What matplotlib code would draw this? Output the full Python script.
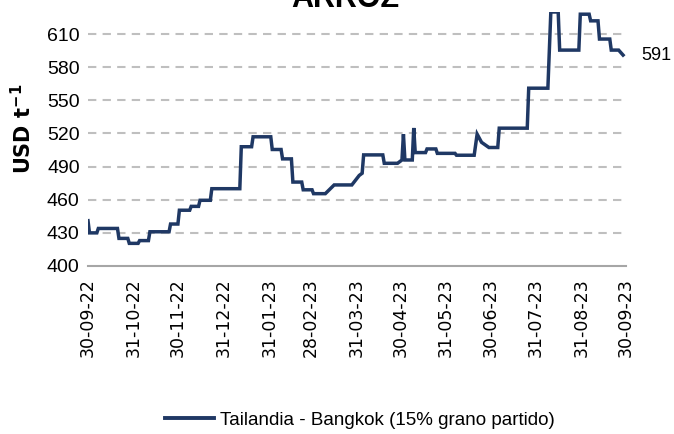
import matplotlib
matplotlib.use("Agg")
import matplotlib.pyplot as plt
import pandas as pd

dates = ["2022-09-30", "2022-10-01", "2022-10-06", "2022-10-07", "2022-10-20", "2022-10-21",
         "2022-10-27", "2022-10-28", "2022-11-03", "2022-11-04", "2022-11-10", "2022-11-11",
         "2022-11-24", "2022-11-25", "2022-11-30", "2022-12-01", "2022-12-08", "2022-12-09",
         "2022-12-14", "2022-12-15", "2022-12-22", "2022-12-23", "2023-01-11", "2023-01-12",
         "2023-01-19", "2023-01-20", "2023-02-01", "2023-02-02", "2023-02-08", "2023-02-09",
         "2023-02-15", "2023-02-16", "2023-02-22", "2023-02-23", "2023-03-01", "2023-03-02",
         "2023-03-10", "2023-03-16", "2023-03-28", "2023-04-02", "2023-04-04", "2023-04-05",
         "2023-04-18", "2023-04-19", "2023-04-28", "2023-04-29", "2023-05-01", "2023-05-02",
         "2023-05-03", "2023-05-08", "2023-05-09", "2023-05-10", "2023-05-17", "2023-05-18",
         "2023-05-24", "2023-05-25", "2023-06-06", "2023-06-07", "2023-06-19", "2023-06-21",
         "2023-06-24", "2023-06-29", "2023-07-05", "2023-07-06", "2023-07-25", "2023-07-26",
         "2023-08-08", "2023-08-10", "2023-08-15", "2023-08-16", "2023-08-29", "2023-08-30",
         "2023-09-05", "2023-09-06", "2023-09-11", "2023-09-12", "2023-09-19", "2023-09-20",
         "2023-09-25", "2023-09-28"]
values = [441, 430, 430, 434, 434, 425,
          425, 420.5, 420.5, 423, 423, 431,
          431, 438, 438, 450.5, 450.5, 454,
          454, 459.5, 459.5, 470, 470, 508,
          508, 517, 517, 505.5, 505.5, 497,
          497, 476, 476, 469, 469, 465.5,
          465.5, 473.4, 473.4, 482, 484, 500.6,
          500.6, 493, 493, 494, 496, 519.4,
          496, 496, 525, 502.7, 502.7, 506,
          506, 502, 502, 500.3, 500.3, 519.4,
          512, 507.3, 507.3, 524.8, 524.8, 561,
          561, 630, 630, 595.5, 595.5, 628,
          628, 622, 622, 605.5, 605.5, 595.5,
          595.5, 591]

tick_dates = ["2022-09-30", "2022-10-31", "2022-11-30", "2022-12-31", "2023-01-31",
              "2023-02-28", "2023-03-31", "2023-04-30", "2023-05-31", "2023-06-30",
              "2023-07-31", "2023-08-31", "2023-09-30"]
yticks = [400, 430, 460, 490, 520, 550, 580, 610]
series_name = "Tailandia - Bangkok (15% grano partido)"
last_label = "591"
title = "ARROZ"

x = pd.to_datetime(dates)
tx = pd.to_datetime(tick_dates)

narrow = ['Liberation Sans', 'DejaVu Sans']
navy = '#1F3864'

fig = plt.figure(figsize=(6.74, 4.34), dpi=100)
ax = fig.add_axes([88/674, 1-266/434, (626-88)/674, (266-12)/434])
ax.plot(x, values, color=navy, lw=2.5, solid_joinstyle='miter')

ax.set_xlim(tx[0], tx[-1])
ax.set_ylim(400, 630)
ax.set_yticks(yticks)
ax.set_yticklabels([str(v) for v in yticks], fontfamily=narrow, fontsize=14)
ax.set_xticks(tx)
ax.set_xticklabels([d.strftime('%d-%m-%y') for d in tx], rotation=90,
                   fontsize=12.5, fontfamily='DejaVu Sans')
ax.tick_params(axis='both', length=0)
ax.tick_params(axis='y', pad=6)
ax.tick_params(axis='x', pad=9)

for v in yticks[1:]:
    ax.axhline(v, color='#BFBFBF', lw=1.5, ls=(0, (4, 3)), zorder=0)
for s in ['top', 'right', 'left']:
    ax.spines[s].set_visible(False)
ax.spines['bottom'].set_color('#A6A6A6')
ax.spines['bottom'].set_linewidth(1.5)

ax.set_ylabel(r'USD t$^{\mathbf{-1}}$', fontsize=15, fontweight='bold')
ax.yaxis.set_label_coords(-0.098, 0.54)

ax.annotate(last_label, xy=(x[-1], values[-1]), xytext=(13, 0), textcoords='offset points',
            fontsize=13, fontfamily=narrow, va='center', ha='left')

fig.text(345/674, 1-7/434, title, ha='center', va='baseline', fontsize=22, fontweight='bold',
         fontfamily=narrow)

handle, = ax.plot([], [], color=navy, lw=2.8)
fig.legend([handle], [series_name], loc='center', bbox_to_anchor=(360/674, 1-420/434),
           frameon=False, prop={'family': narrow, 'size': 13.5}, handlelength=2.6, handletextpad=0.3)

fig.savefig('out.png', dpi=100)
